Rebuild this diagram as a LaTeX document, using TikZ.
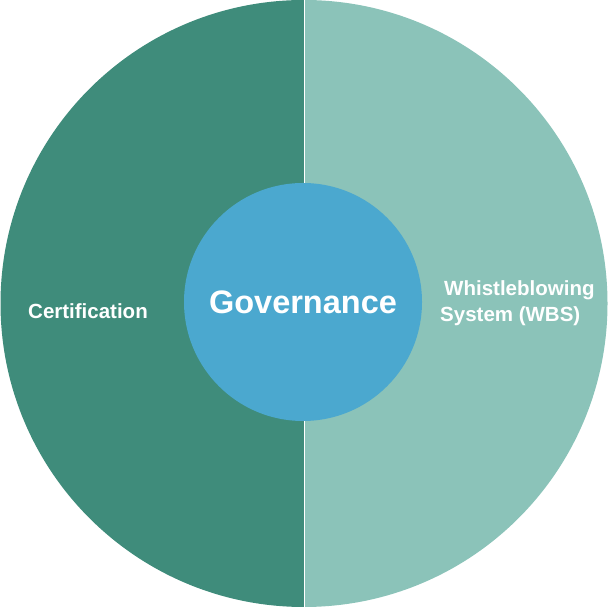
\documentclass[tikz,border=0pt]{standalone}
\usepackage{fontspec}
\setmainfont{Liberation Sans}
\definecolor{darkteal}{HTML}{3F8C7B}
\definecolor{lightteal}{HTML}{8BC3B9}
\definecolor{hubblue}{HTML}{4BA8CF}
\tikzset{hub node/.style={circle,fill=hubblue,minimum size=238bp,inner sep=0pt,text=white,font=\bfseries\fontsize{32.5bp}{38bp}\selectfont},
  side label/.style={text=white,font=\bfseries\fontsize{20.5bp}{26bp}\selectfont,inner sep=0pt},}

\begin{document}
\begin{tikzpicture}[x=1bp,y=1bp]
  \useasboundingbox (0,0) rectangle (608,607);
  %% Halves
  \fill[darkteal] (304,0) arc[start angle=-90,end angle=-270,radius=303.5] -- cycle;
  \fill[lightteal] (304,0) arc[start angle=-90,end angle=90,radius=303.5] -- cycle;
  \coordinate (top) at (304,607);
  \coordinate (bottom) at (304,0);
  \draw[white,line width=0.8bp] (top) -- (bottom);
  %% Nodes
  \node[hub node] (hub) at (303,305) {Governance};
  \node[side label] (cert) at (88,296) {Certification};
  \node[side label,align=left,anchor=west] (wbs) at (440,304) {\hspace{4bp}Whistleblowing\\System (WBS)};
\end{tikzpicture}
\end{document}
